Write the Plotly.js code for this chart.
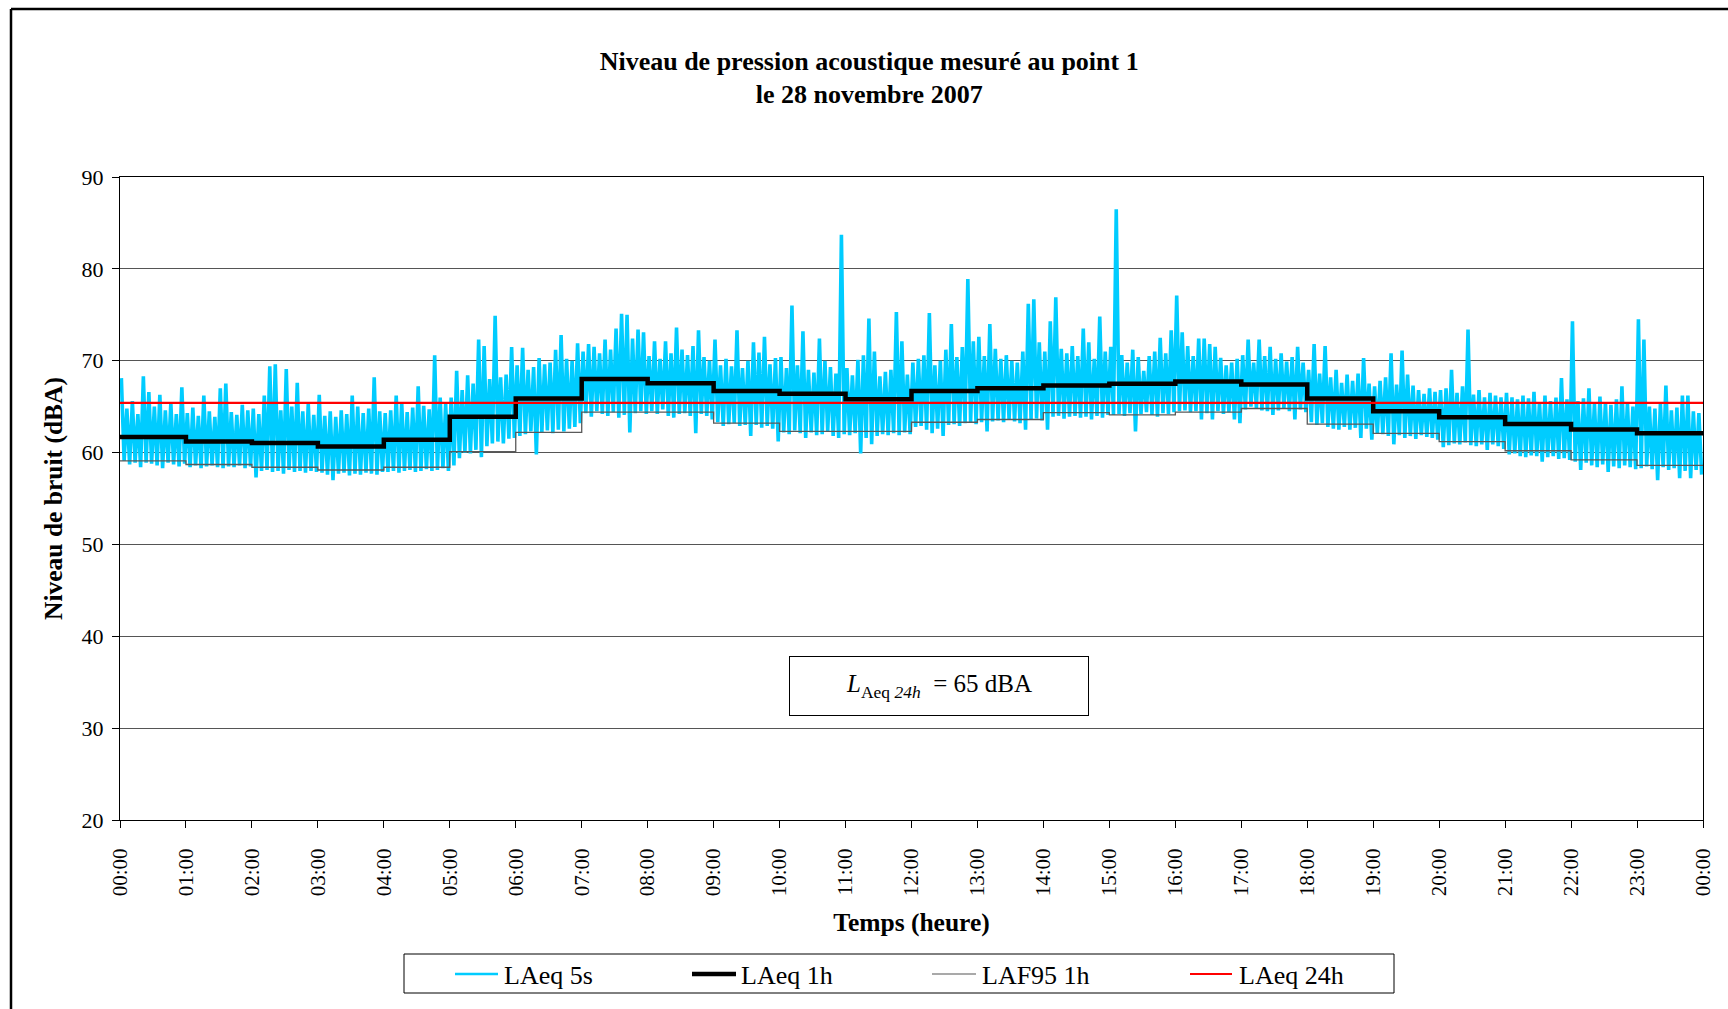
<!DOCTYPE html>
<html>
<head>
<meta charset="utf-8">
<script src="https://cdn.plot.ly/plotly-3.0.1.min.js"></script>
<style>
html,body{margin:0;padding:0;background:#fff;overflow:hidden;}
#chart{width:1728px;height:1009px;}
</style>
</head>
<body>
<div id="chart"></div>
<script>
// ---- Data ----
// Hour tick labels
const hourLabels = ['00:00','01:00','02:00','03:00','04:00','05:00','06:00','07:00','08:00','09:00','10:00','11:00',
  '12:00','13:00','14:00','15:00','16:00','17:00','18:00','19:00','20:00','21:00','22:00','23:00','00:00'];

// Series names
const seriesNames = ['LAeq 5s', 'LAeq 1h', 'LAF95 1h', 'LAeq 24h'];

// LAeq 1h (dBA), one value per hour 00h..23h
const laeq1h = [61.7, 61.2, 61.05, 60.65, 61.4, 63.9, 65.9, 68.0, 67.56, 66.7, 66.4, 65.8,
  66.7, 67.0, 67.3, 67.5, 67.75, 67.4, 65.9, 64.5, 63.85, 63.1, 62.5, 62.1];

// LAF95 1h (dBA), one value per hour
const laf95 = [59.1, 58.7, 58.4, 58.1, 58.4, 60.1, 62.2, 64.4, 64.4, 63.2, 62.3, 62.3,
  63.3, 63.6, 64.35, 64.1, 64.4, 64.8, 63.1, 62.1, 61.2, 60.2, 59.2, 58.6];

// LAeq 24h (dBA)
const laeq24h = 65.4;

// LAeq 5s: highest and lowest reading in each 5-minute slice (12 per hour)
const laeq5sMax = [
  68.1, 64.8, 65.6, 64.2, 68.3, 66.6, 65.0, 66.3, 64.6, 65.4, 64.2, 67.1,
  64.3, 64.9, 64.0, 66.2, 64.5, 63.9, 67.0, 67.5, 64.4, 64.1, 65.2, 64.6,
  64.8, 64.2, 66.2, 69.4, 69.6, 64.6, 69.1, 65.0, 67.6, 64.5, 65.3, 64.1,
  66.3, 64.0, 64.5, 63.9, 64.6, 64.2, 66.2, 65.0, 64.3, 64.8, 68.2, 64.5,
  64.3, 64.6, 66.2, 65.5, 64.4, 64.9, 67.2, 65.1, 64.7, 70.6, 66.0, 65.3,
  66.0, 68.9, 66.8, 68.4, 67.5, 72.3, 71.6, 68.0, 74.9, 68.2, 68.5, 71.5,
  69.5, 71.4, 69.0, 69.3, 70.3, 69.6, 69.8, 71.2, 72.8, 70.2, 70.0, 71.9,
  71.0, 71.8, 71.5, 70.8, 72.3, 71.2, 73.5, 75.1, 75.0, 72.4, 73.4, 73.1,
  70.5, 72.1, 70.2, 72.1, 70.8, 73.6, 71.2, 70.6, 71.6, 73.3, 70.4, 70.0,
  72.3, 69.5, 70.2, 69.4, 73.3, 69.2, 70.0, 72.0, 70.9, 72.6, 69.6, 70.3,
  70.4, 69.2, 76.0, 69.5, 73.2, 69.0, 68.7, 72.4, 70.0, 69.3, 68.6, 83.7,
  69.2, 68.4, 70.1, 70.6, 74.6, 71.0, 68.3, 68.8, 69.0, 75.3, 72.1, 68.5,
  69.8, 70.2, 70.6, 75.2, 69.5, 70.0, 71.2, 74.0, 70.4, 71.5, 78.9, 72.1,
  72.6, 70.5, 74.0, 71.3, 70.2, 70.6, 70.0, 69.8, 71.0, 76.2, 76.7, 72.0,
  71.0, 74.3, 76.9, 71.3, 70.8, 71.6, 70.5, 73.5, 72.0, 70.2, 74.8, 71.0,
  71.5, 86.5, 70.6, 69.8, 71.2, 70.4, 68.9, 70.5, 71.0, 72.5, 70.8, 73.3,
  77.1, 73.1, 71.6, 70.5, 72.4, 72.4, 71.8, 71.5, 70.3, 69.5, 69.8, 70.2,
  70.6, 72.3, 69.8, 72.3, 70.5, 71.5, 70.2, 70.8, 69.9, 70.4, 71.5, 69.8,
  69.0, 71.8, 68.6, 71.6, 68.2, 69.0, 67.6, 68.5, 67.8, 68.6, 70.3, 67.5,
  67.2, 67.8, 68.2, 70.8, 67.4, 71.1, 68.5, 67.3, 66.8, 66.4, 67.0, 66.6,
  66.8, 67.0, 69.0, 66.5, 67.2, 73.4, 66.3, 66.8, 66.0, 66.5, 66.2, 66.0,
  66.5, 66.0, 65.8, 66.2, 65.9, 66.6, 65.5, 66.2, 65.6, 66.0, 68.1, 65.8,
  74.3, 65.6, 65.9, 67.0, 65.4, 66.1, 65.5, 65.2, 65.8, 67.2, 65.4, 65.0,
  74.5, 72.3, 65.0, 64.8, 65.3, 67.3, 64.6, 64.9, 66.2, 66.2, 64.5, 64.3
];
const laeq5sMin = [
  59.1, 58.7, 58.9, 58.4, 58.9, 58.8, 58.6, 58.3, 58.9, 58.7, 58.5, 58.8,
  58.4, 58.6, 58.3, 58.5, 58.6, 58.4, 58.3, 58.5, 58.4, 58.6, 58.3, 58.5,
  57.3, 58.0, 58.1, 57.9, 58.0, 57.7, 58.1, 57.9, 58.0, 57.8, 58.0, 57.9,
  57.8, 57.6, 57.0, 57.7, 57.8, 57.5, 57.7, 57.6, 57.8, 57.7, 57.6, 57.9,
  57.9, 58.0, 57.8, 58.0, 58.1, 57.9, 58.0, 58.2, 58.0, 58.1, 58.3, 58.0,
  58.6, 59.4, 60.0, 59.9, 60.3, 59.5, 60.7, 61.0, 61.2, 61.0, 61.5, 61.6,
  61.8, 62.0, 62.3, 59.8, 62.2, 62.4, 62.1, 62.5, 62.3, 62.6, 62.8, 63.2,
  64.3, 63.9, 64.5, 64.2, 64.0, 64.4, 63.8, 64.1, 62.2, 64.3, 64.5, 64.2,
  64.5, 64.2, 64.7, 64.0, 63.8, 64.2, 64.3, 64.0, 62.1, 64.2, 64.0, 63.6,
  63.3, 62.9, 63.1, 63.2, 62.9, 63.0, 61.8, 63.0, 62.7, 62.9, 62.6, 61.2,
  62.2, 62.0, 62.4, 62.1, 61.6, 62.2, 61.9, 62.0, 62.3, 61.8, 61.6, 62.0,
  61.9, 62.1, 59.9, 61.6, 60.9, 61.8, 62.0, 61.9, 62.1, 61.9, 62.2, 62.0,
  62.8, 62.9, 62.5, 62.1, 62.6, 61.8, 63.0, 63.1, 62.9, 63.2, 63.3, 63.1,
  63.3, 62.3, 63.4, 63.5, 63.3, 63.6, 63.4, 63.2, 62.5, 63.6, 63.7, 63.5,
  62.5, 63.9, 64.0, 63.7, 63.9, 64.0, 63.8, 63.9, 63.6, 64.0, 63.8, 64.1,
  64.1, 64.2, 64.0, 64.3, 62.3, 64.2, 64.4, 64.1, 63.9, 64.3, 64.2, 64.4,
  64.5, 64.6, 64.4, 64.5, 63.6, 64.3, 63.6, 64.5, 64.2, 64.4, 63.6, 63.2,
  64.7, 65.0, 64.8, 64.6, 64.5, 64.1, 64.6, 64.8, 64.5, 63.6, 64.7, 64.4,
  63.3, 63.0, 63.2, 62.8, 62.6, 62.5, 62.8, 62.5, 62.7, 61.6, 62.6, 61.4,
  62.1, 62.0, 61.8, 60.9, 61.9, 61.6, 61.8, 61.5, 61.9, 61.7, 61.6, 61.4,
  60.6, 60.8, 61.0, 60.9, 61.1, 60.8, 60.7, 60.9, 60.3, 60.9, 60.7, 60.4,
  59.8, 59.9, 59.6, 59.5, 59.7, 59.6, 59.0, 59.5, 59.6, 59.3, 59.4, 59.2,
  59.0, 58.1, 58.9, 58.6, 58.4, 58.7, 57.9, 58.5, 58.3, 58.6, 58.4, 58.2,
  58.3, 58.5, 58.2, 57.0, 58.4, 58.1, 58.3, 57.2, 58.0, 57.2, 58.1, 57.6
];

// ---- Styles ----
const FONT = 'Liberation Serif, "Times New Roman", Times, serif';
const COLORS = {c5s: '#00CCFF', c1h: '#000000', c95: '#5a5a5a', c95leg: '#8c8c8c', c24: '#FF0000'};

// ---- Figure geometry (pixels) ----
const W = 1728, H = 1009;
const M = {l: 120, r: 25, t: 177, b: 189};
const plotW = W - M.l - M.r, plotH = H - M.t - M.b;
const px = v => (v - M.l) / plotW;            // page x pixel -> paper x
const py = v => (H - M.b - v) / plotH;        // page y pixel -> paper y

// ---- Build traces ----
const slice = 5 / 60; // hours per slice
const x5 = [], y5 = [];
laeq5sMax.forEach((v, k) => {
  x5.push(k * slice + slice * 0.25); y5.push(v);
  x5.push(k * slice + slice * 0.75); y5.push(laeq5sMin[k]);
});
const xh = laeq1h.map((v, i) => i).concat([laeq1h.length]);
const y1h = laeq1h.concat([laeq1h[laeq1h.length - 1]]);
const y95 = laf95.concat([laf95[laf95.length - 1]]);

const traces = [
  {x: x5, y: y5, type: 'scatter', mode: 'lines', name: seriesNames[0],
   line: {color: COLORS.c5s, width: 3.6, simplify: false}, hoverinfo: 'skip'},
  {x: xh, y: y95, type: 'scatter', mode: 'lines', name: seriesNames[2],
   line: {color: COLORS.c95, width: 1.3, shape: 'hv'}},
  {x: xh, y: y1h, type: 'scatter', mode: 'lines', name: seriesNames[1],
   line: {color: COLORS.c1h, width: 4.5, shape: 'hv'}},
  {x: [0, 24], y: [laeq24h, laeq24h], type: 'scatter', mode: 'lines', name: seriesNames[3],
   line: {color: COLORS.c24, width: 2.2}}
];

// ---- Legend drawn as a boxed row (matches the reference spacing) ----
const legBox = {x0: 404, x1: 1394, y0: 954, y1: 993};
const legItems = [
  {name: seriesNames[0], color: COLORS.c5s, width: 2.5, s0: 455, s1: 498, t: 502},
  {name: seriesNames[1], color: COLORS.c1h, width: 4.5, s0: 692, s1: 736, t: 739},
  {name: seriesNames[2], color: COLORS.c95leg, width: 1.3, s0: 932, s1: 976, t: 980},
  {name: seriesNames[3], color: COLORS.c24, width: 2, s0: 1190, s1: 1232, t: 1237}
];
const legY = 974;

const shapes = [
  // outer chart frame (left and top edges visible)
  {type: 'line', xref: 'paper', yref: 'paper', x0: px(11), x1: px(11), y0: py(9), y1: py(1015),
   line: {color: '#000', width: 2.5}},
  {type: 'line', xref: 'paper', yref: 'paper', x0: px(11), x1: px(1735), y0: py(9), y1: py(9),
   line: {color: '#000', width: 2.5}},
  // legend box
  {type: 'rect', xref: 'paper', yref: 'paper', x0: px(legBox.x0), x1: px(legBox.x1),
   y0: py(legBox.y0), y1: py(legBox.y1), line: {color: '#000', width: 1}, fillcolor: 'rgba(0,0,0,0)'}
];
const annotations = [{
  xref: 'paper', yref: 'paper', x: px(939), y: py(685.5),
  xanchor: 'center', yanchor: 'middle', showarrow: false,
  text: '<i>L</i><sub>Aeq <i>24h</i></sub>  = 65 dBA',
  font: {family: FONT, size: 25, color: '#000'},
  bordercolor: '#000', borderwidth: 1, borderpad: 4, bgcolor: '#fff',
  width: 290, height: 50
}];
legItems.forEach(it => {
  shapes.push({type: 'line', xref: 'paper', yref: 'paper', x0: px(it.s0), x1: px(it.s1),
    y0: py(legY), y1: py(legY), line: {color: it.color, width: it.width}});
  annotations.push({xref: 'paper', yref: 'paper', x: px(it.t), y: py(legY + 1),
    xanchor: 'left', yanchor: 'middle', showarrow: false, text: it.name,
    font: {family: FONT, size: 26, color: '#000'}});
});

const layout = {
  width: W, height: H,
  margin: {l: M.l, r: M.r, t: M.t, b: M.b, autoexpand: false},
  paper_bgcolor: '#ffffff', plot_bgcolor: '#ffffff',
  font: {family: FONT, color: '#000000', size: 21},
  showlegend: false,
  title: {
    text: '<b>Niveau de pression acoustique mesuré au point 1<br>le 28 novembre 2007</b>',
    font: {family: FONT, size: 26, color: '#000000'},
    xref: 'container', x: 0.503, xanchor: 'center',
    yref: 'container', y: 0.931, yanchor: 'top'
  },
  xaxis: {
    range: [0, 24], tickmode: 'array',
    tickvals: hourLabels.map((t, i) => i), ticktext: hourLabels,
    tickangle: -90, tickfont: {family: FONT, size: 21, color: '#000'},
    ticks: 'outside', ticklen: 7, tickcolor: '#000', tickwidth: 1,
    ticklabelstandoff: 12,
    showline: true, linecolor: '#000', linewidth: 1, mirror: true,
    showgrid: false, zeroline: false, automargin: false,
    title: {text: '<b>Temps (heure)</b>', font: {family: FONT, size: 25.5, color: '#000'}, standoff: 17}
  },
  yaxis: {
    range: [20, 90], dtick: 10, tick0: 20,
    tickfont: {family: FONT, size: 22, color: '#000'},
    ticks: 'outside', ticklen: 7, tickcolor: '#000', tickwidth: 1,
    ticklabelstandoff: 4,
    showline: true, linecolor: '#000', linewidth: 1, mirror: true,
    showgrid: true, gridcolor: '#555555', gridwidth: 1, zeroline: false, automargin: false,
    title: {text: '<b>Niveau de bruit (dBA)</b>', font: {family: FONT, size: 25.5, color: '#000'}, standoff: 11}
  },
  shapes: shapes,
  annotations: annotations
};

Plotly.newPlot('chart', traces, layout, {displayModeBar: false, staticPlot: true});
</script>
</body>
</html>
